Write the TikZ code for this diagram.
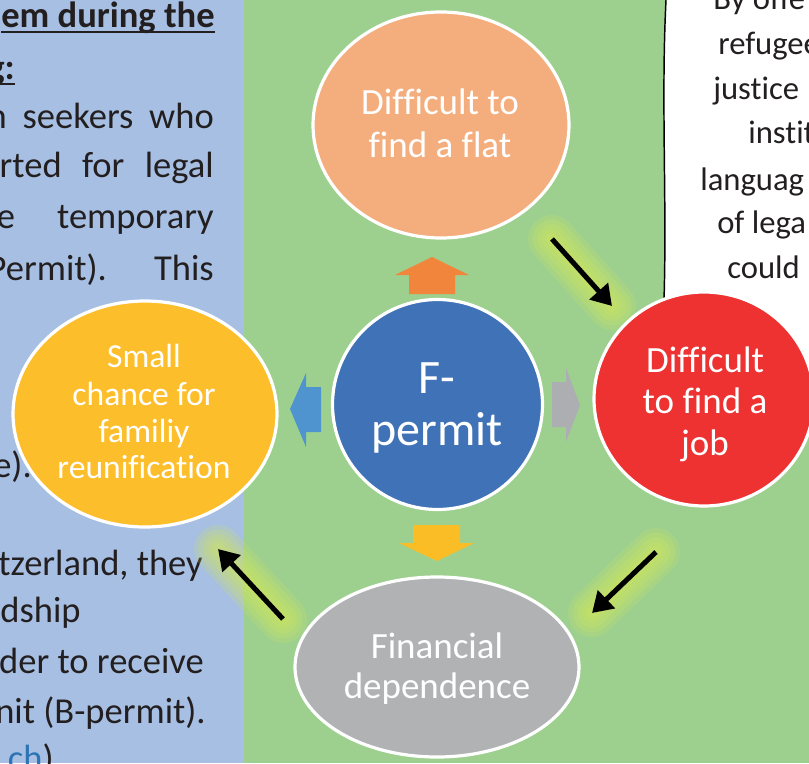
\documentclass[tikz,border=0pt]{standalone}
\usepackage{fontspec}
\setmainfont{Carlito}[Ligatures=CommonOff]
\usetikzlibrary{arrows.meta,shapes.geometric}
\definecolor{panelblue}{HTML}{A6BFE2}
\definecolor{panelgreen}{HTML}{9DD08F}
\definecolor{flatfill}{HTML}{F4AE7E}
\definecolor{uparrow}{HTML}{F0853B}
\definecolor{permfill}{HTML}{3F72B7}
\definecolor{leftarrow}{HTML}{4F94CF}
\definecolor{grayarrow}{HTML}{ADAEB1}
\definecolor{downarrow}{HTML}{FBBD26}
\definecolor{famfill}{HTML}{FDBE2B}
\definecolor{jobfill}{HTML}{EE3131}
\definecolor{moneyfill}{HTML}{B1B2B4}
\definecolor{glowcol}{HTML}{D2E65A}
\definecolor{txtdark}{HTML}{231F20}
\definecolor{linkblue}{HTML}{2E74B5}
\newcommand\myul[1]{\setbox0=\hbox{#1}\rlap{\rule[-4pt]{\wd0}{1.9pt}}\box0}
\begin{document}
\begin{tikzpicture}[x=0.75pt,y=-0.75pt,
  bubble/.style={ellipse, draw=white, line width=2.4pt, inner sep=0pt},
  lbl/.style={text=white, inner sep=0pt, anchor=base, font=\fontsize{27.75pt}{33pt}\selectfont},
  smalllbl/.style={lbl, font=\fontsize{25.2pt}{30pt}\selectfont},
  biglbl/.style={lbl, font=\fontsize{36pt}{42pt}\selectfont},
  bodytxt/.style={text=txtdark, inner sep=0pt, font=\fontsize{27.4pt}{37pt}\selectfont},
  boldtxt/.style={bodytxt, font=\fontsize{27.4pt}{37pt}\selectfont\bfseries},
  calltxt/.style={text=txtdark, inner sep=0pt, anchor=base west, font=\fontsize{24.5pt}{30pt}\selectfont},
  pointer/.style={line width=3.75pt, black, -{Triangle[length=15pt,width=18pt]}},
  glowline/.style={line cap=round, glowcol, opacity=0.2}
]
\useasboundingbox (0,0) rectangle (809,763);
\clip (0,0) rectangle (809,763);

% panels
\fill[panelblue] (0,0) rectangle (244,763);
\fill[panelgreen] (244,0) rectangle (809,763);

% callout box
\fill[white] (666,0) .. controls (661,100) and (667,200) .. (664,300) -- (664,400) -- (809,400) -- (809,0) -- cycle;
\draw[line width=1.1pt, black] (666,0) .. controls (661,100) and (667,200) .. (664,300);

% left panel text
\node[boldtxt, anchor=base east] (h1) at (215,28) {\myul{em during the}};
\node[boldtxt, anchor=base east] (h2) at (15,80) {\myul{g:}};
\node[bodytxt, anchor=base east] (l1) at (214,128) {\hbox to 169.5pt{n seekers who}};
\node[bodytxt, anchor=base east] (l2) at (214,177) {\hbox to 160.5pt{rted for legal}};
\node[bodytxt, anchor=base east] (l3) at (214,228) {\hbox to 162.7pt{e temporary}};
\node[bodytxt, anchor=base east] (l4) at (214,280) {\hbox to 169.5pt{Permit). This}};
\node[bodytxt, anchor=base east] (l5) at (32,477) {e).};
\node[bodytxt, anchor=base east] (l6) at (203,575) {tzerland, they};
\node[bodytxt, anchor=base east] (l7) at (81,622) {dship};
\node[bodytxt, anchor=base east] (l8) at (204,673) {der to receive};
\node[bodytxt, anchor=base east] (l9) at (206,723) {nit (B-permit).};
\node[bodytxt, anchor=base east] (l10) at (54,770) {\textcolor{linkblue}{l.ch})};

% callout text
\node[calltxt] (c1) at (713,10) {By offe};
\node[calltxt] (c2) at (718,55) {refugee};
\node[calltxt] (c3) at (713,100) {justice};
\node[calltxt] (c4) at (748,143) {instit};
\node[calltxt] (c5) at (700,190) {languag};
\node[calltxt] (c6) at (717,233) {of lega};
\node[calltxt] (c7) at (727,278) {could};

% pointer arrow coordinates
\coordinate (p1s) at (552,239); \coordinate (p1e) at (612,306);
\coordinate (p2s) at (656,552); \coordinate (p2e) at (592,613);
\coordinate (p3s) at (283,619); \coordinate (p3e) at (218,549);

% glows
\foreach \s/\e in {p1s/p1e, p2s/p2e, p3s/p3e}{
  \foreach \w in {36,29,22,15,9}{
    \draw[glowline, line width=\w pt] (\s) -- (\e);
  }
}

% bubbles
\node[bubble, fill=flatfill, minimum width=192pt, minimum height=169.5pt] (flat) at (441,125) {};
\node[bubble, fill=permfill, minimum width=157.5pt, minimum height=157.5pt] (fperm) at (437.5,404.5) {};
\node[bubble, fill=jobfill, minimum width=165pt, minimum height=160.5pt] (job) at (704,399) {};
\node[bubble, fill=famfill, minimum width=198pt, minimum height=169.5pt] (family) at (145,414) {};
\node[bubble, fill=moneyfill, minimum width=213pt, minimum height=135pt] (money) at (437,667) {};

% block arrows
\fill[uparrow] (409,294) -- (455,294) -- (455,275) -- (469,275) -- (432,257) -- (395,275) -- (409,275) -- cycle;
\fill[leftarrow] (321,387) -- (321,432) -- (306,432) -- (306,447) -- (290,409) -- (306,373) -- (306,387) -- cycle;
\fill[grayarrow] (552,382) -- (566,382) -- (566,368) -- (580,405) -- (566,442) -- (566,427) -- (552,427) -- cycle;
\fill[downarrow] (413,525) -- (460,525) -- (460,543) -- (474,543) -- (437,561) -- (399,543) -- (413,543) -- cycle;

% pointer arrows
\draw[pointer] (p1s) -- (p1e);
\draw[pointer] (p2s) -- (p2e);
\draw[pointer] (p3s) -- (p3e);

% bubble labels
\node[lbl] (flat1) at (440,115) {Difficult to};
\node[lbl] (flat2) at (440,157) {find a flat};
\node[biglbl] (perm1) at (437,393) {F-};
\node[biglbl] (perm2) at (437,445) {permit};
\node[lbl] (job1) at (705,372) {Difficult};
\node[lbl] (job2) at (705,413) {to find a};
\node[lbl] (job3) at (705,455) {job};
\node[smalllbl] (fam1) at (144,367) {Small};
\node[smalllbl] (fam2) at (144,405) {chance for};
\node[smalllbl] (fam3) at (144,442) {familiy};
\node[smalllbl] (fam4) at (144,478) {reunification};
\node[lbl] (mon1) at (437,658) {Financial};
\node[lbl] (mon2) at (437,698) {dependence};
\end{tikzpicture}
\end{document}
